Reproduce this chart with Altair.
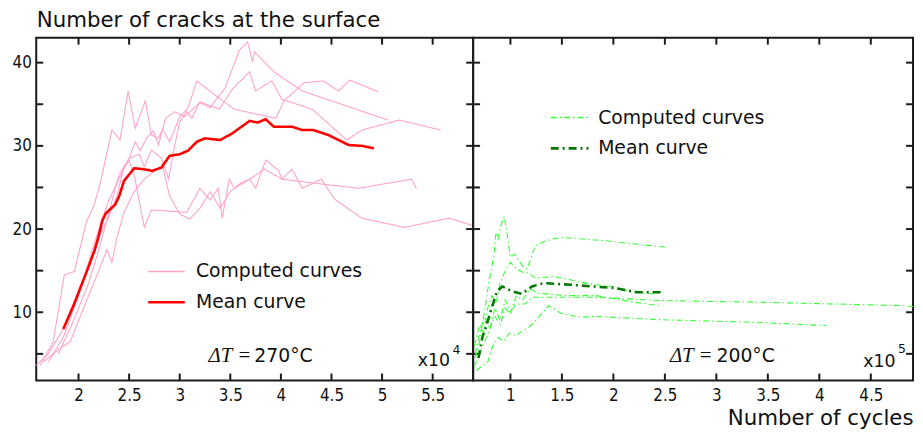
import altair as alt
import pandas as pd

# ---------------- data (x in units of 1e4 cycles for left, 1e5 for right) -------------
P1_x = [1.62, 1.75, 1.86, 1.96, 2.03, 2.08, 2.15, 2.22, 2.33, 2.41, 2.49, 2.56, 2.66, 2.72, 2.79,
        2.83, 2.90, 3.00, 3.08, 3.17, 3.36, 3.54, 3.95, 4.03, 4.23, 4.42, 4.57, 4.68, 4.96]
P1_y = [3.6, 6.5, 14.5, 14.9, 18.5, 21.0, 22.7, 25.8, 31.9, 30.7, 36.6, 32.1, 35.4, 31.3, 30.9,
        32.0, 30.5, 33.5, 34.5, 37.8, 36.0, 34.4, 33.3, 35.4, 37.6, 37.8, 36.6, 37.9, 36.5]
P2_x = [1.70, 1.85, 2.00, 2.10, 2.20, 2.30, 2.40, 2.50, 2.56, 2.61, 2.67, 2.74, 2.79, 2.86, 2.95,
        3.05, 3.20, 3.30, 3.45, 3.59, 3.67, 3.72, 3.74, 3.93, 4.21, 5.06]
P2_y = [4.0, 7.0, 12.0, 16.0, 20.0, 23.5, 26.0, 28.5, 30.5, 29.4, 30.9, 31.8, 30.1, 33.3, 34.1,
        33.5, 35.2, 34.6, 37.0, 41.5, 42.5, 40.1, 41.3, 38.9, 36.6, 33.1]
P3_x = [1.80, 1.95, 2.10, 2.20, 2.30, 2.40, 2.50, 2.60, 2.65, 2.72, 2.82, 2.89, 2.95, 3.00, 3.07,
        3.12, 3.20, 3.39, 3.52, 3.69, 3.75, 3.91, 4.01, 4.31, 4.65, 4.80, 5.17, 5.58]
P3_y = [5.0, 9.0, 13.5, 17.5, 22.0, 26.5, 28.5, 29.0, 27.5, 29.5, 28.5, 26.0, 30.0, 32.9, 34.1,
        33.3, 35.3, 34.4, 36.8, 38.9, 36.6, 37.8, 35.6, 34.4, 30.7, 31.9, 33.1, 31.9]
P4_x = [1.58, 1.70, 1.85, 1.95, 2.05, 2.15, 2.22, 2.30, 2.38, 2.45, 2.50, 2.55, 2.65, 2.72, 3.07,
        3.20, 3.30, 3.38, 3.42, 3.49, 3.54, 3.69, 3.75, 3.85, 3.98, 4.01, 4.11, 4.21, 4.40, 4.53,
        4.80, 5.22, 5.66, 5.90]
P4_y = [3.6, 5.0, 8.0, 11.0, 14.0, 17.0, 19.5, 21.5, 24.0, 27.5, 28.2, 26.5, 20.2, 22.3, 22.0,
        24.9, 23.5, 24.9, 21.3, 26.0, 24.9, 26.0, 24.9, 28.3, 27.0, 26.0, 27.2, 24.9, 26.0, 23.6,
        21.3, 20.2, 21.3, 20.4]
P5_x = [1.65, 1.80, 1.92, 2.00, 2.10, 2.20, 2.28, 2.33, 2.38, 2.45, 2.55, 2.65, 2.75, 2.83, 2.90,
        3.00, 3.10, 3.20, 3.30, 3.40, 3.50, 3.60, 3.69, 3.84, 4.01, 4.34, 4.77, 5.29, 5.34]
P5_y = [4.0, 5.5, 6.5, 9.0, 12.0, 15.0, 17.5, 16.0, 19.0, 22.0, 24.5, 26.0, 27.0, 27.5, 24.0,
        21.8, 21.2, 22.5, 24.5, 22.5, 24.5, 25.5, 26.0, 27.2, 26.0, 25.5, 24.9, 26.0, 24.9]
MEAN270_x = [1.85, 1.95, 2.03, 2.10, 2.16, 2.20, 2.235, 2.27, 2.36, 2.40, 2.45, 2.55, 2.64, 2.73,
             2.82, 2.90, 3.00, 3.08, 3.17, 3.25, 3.40, 3.52, 3.69, 3.77, 3.85, 3.93, 4.11, 4.21,
             4.32, 4.47, 4.57, 4.67, 4.80, 4.92]
MEAN270_y = [8.0, 10.8, 13.3, 15.5, 17.5, 19.2, 21.0, 21.9, 22.9, 23.9, 25.8, 27.3, 27.2, 27.0,
             27.4, 28.8, 29.0, 29.4, 30.5, 30.9, 30.7, 31.5, 33.0, 32.8, 33.2, 32.3, 32.3, 31.9,
             31.9, 31.3, 30.7, 30.1, 30.0, 29.7]

G1_x = [0.66, 0.70, 0.74, 0.76, 0.79, 0.82, 0.84, 0.86, 0.88, 0.91, 0.94, 0.97, 1.00, 1.04, 1.08,
        1.11, 1.16, 1.21, 1.24, 1.35, 1.48, 1.92, 2.21, 2.53]
G1_y = [4.5, 6.5, 9.5, 11.0, 13.5, 15.5, 16.8, 19.6, 18.8, 20.5, 21.5, 19.2, 16.6, 17.0, 16.2,
        15.7, 15.2, 16.8, 18.0, 18.6, 19.0, 18.6, 18.2, 17.8]
G3_x = [0.65, 0.70, 0.75, 0.80, 0.85, 0.90, 0.95, 1.00, 1.05, 1.14, 1.21, 1.47, 1.83, 2.47, 3.43,
        4.81, 4.91]
G3_y = [3.5, 5.0, 6.5, 8.0, 9.5, 8.5, 10.5, 9.8, 11.0, 11.0, 11.8, 11.8, 11.8, 11.4, 11.2,
        10.8, 10.7]
G4_x = [0.67, 0.72, 0.78, 0.83, 0.88, 0.93, 0.99, 1.05, 1.11, 1.18, 1.23, 1.28, 1.37, 1.50, 1.69,
        1.83, 2.47, 3.34, 4.07]
G4_y = [3.0, 3.5, 4.0, 6.0, 7.0, 6.5, 7.5, 7.2, 7.7, 8.2, 8.8, 9.5, 10.8, 9.8, 9.4,
        9.5, 9.1, 8.8, 8.4]
G5_x = [0.65, 0.70, 0.74, 0.78, 0.82, 0.86, 0.90, 0.95, 1.00, 1.06, 1.12, 1.18, 1.24, 1.43, 1.69,
        1.83, 1.99, 2.15, 2.40]
G5_y = [6.0, 8.5, 7.5, 10.5, 12.0, 11.0, 13.5, 15.0, 16.0, 15.2, 14.8, 14.7, 14.1, 14.3, 13.6,
        13.3, 13.1, 12.5, 12.2]
G6_x = [0.66, 0.70, 0.75, 0.80, 0.85, 0.90, 0.95, 1.00, 1.06, 1.12, 1.19, 1.26, 1.53, 1.83, 2.02,
        2.21, 2.44]
G6_y = [5.0, 7.5, 9.5, 8.0, 10.5, 9.0, 11.5, 10.0, 12.0, 11.5, 12.8, 12.3, 12.0, 12.0, 11.6,
        11.2, 10.8]
MEAN200_x = [0.69, 0.73, 0.77, 0.81, 0.87, 0.92, 1.02, 1.11, 1.21, 1.32, 1.59, 2.02, 2.23, 2.48]
MEAN200_y = [4.5, 7.1, 8.5, 10.2, 12.5, 13.1, 12.5, 12.2, 13.1, 13.5, 13.3, 12.9, 12.4, 12.4]

LEFT_XTICKS = [2, 2.5, 3, 3.5, 4, 4.5, 5, 5.5]
RIGHT_XTICKS = [1, 1.5, 2, 2.5, 3, 3.5, 4, 4.5]
Y_LABELS = [10, 20, 30, 40]
Y_TICKS = [5, 10, 15, 20, 25, 30, 35, 40]
LEFT_XDOMAIN = [1.582, 5.90]
RIGHT_XDOMAIN = [0.638, 4.91]
YDOMAIN = [1.8, 43.0]

LEGEND_LABELS = ["Computed curves", "Mean curve"]
# legend sample positions in data coordinates: [line start, line end, text start], [row1 y, row2 y]
LEFT_LEG_X = [2.689, 3.05, 3.16]
LEFT_LEG_Y = [14.9, 11.2]
RIGHT_LEG_X = [1.392, 1.758, 1.852]
RIGHT_LEG_Y = [33.4, 29.7]

DT_TEXTS = ["270°C", "200°C"]
LEFT_DT = [3.707, 3.737, 4.75]
RIGHT_DT = [2.963, 3.001, 4.75]
LEFT_EXP = [5.353, 3.6, 5.695, 5.0, "4"]
RIGHT_EXP = [4.427, 3.4, 4.765, 5.1, "5"]

PINK = "#ffa3cb"
RED = "#ff0000"
LGREEN = "#33ff33"
DGREEN = "#007800"
FRAME = "#1a1a1a"
W1, W2, H = 441, 444, 346
TICK = 7  # tick length in pixels, converted to data units below

SANS = "DejaVu Sans"
COND = "DejaVu Sans Condensed"
SERIF = "Liberation Serif, DejaVu Serif, serif"


def curves_df(curves):
    rows = []
    for cid, xs, ys in curves:
        for i, (x, y) in enumerate(zip(xs, ys)):
            rows.append({"curve": cid, "x": x, "y": y, "order": i})
    return pd.DataFrame(rows)


def panel(curves, mean_x, mean_y, xdomain, xticks, width, comp_color, mean_color,
          comp_dash, mean_dash, comp_w, mean_w, leg_x, leg_y, dt_pos, dt_text, exp_pos,
          left_axis, xtitle):
    xscale = alt.Scale(domain=xdomain, nice=False, zero=False)
    yscale = alt.Scale(domain=YDOMAIN, nice=False, zero=False)
    xaxis_kw = dict(values=xticks, format="~g", ticks=False, domain=False, grid=False,
                    labelPadding=7, labelFont=COND, labelFontSize=17, labelColor="#111",
                    labelFlush=False)
    if xtitle:
        xaxis_kw.update(title=xtitle, titleFont=SANS, titleFontSize=21.5, titleFontWeight="normal",
                        titleAlign="right", titleAnchor="end", titleX=width, titleY=44,
                        titleBaseline="alphabetic", titleColor="#111")
    else:
        xaxis_kw.update(title=None)
    xaxis = alt.Axis(**xaxis_kw)
    if left_axis:
        yaxis = alt.Axis(values=Y_LABELS, ticks=False, domain=False, grid=False,
                         labelPadding=5, labelFont=COND, labelFontSize=17, labelColor="#111",
                         title="Number of cracks at the surface", titleAngle=0, titleAlign="left",
                         titleBaseline="alphabetic", titleX=0, titleY=-11, titleFont=SANS,
                         titleFontSize=21.5, titleFontWeight="normal", titleColor="#111")
    else:
        yaxis = None

    def X(f):
        return alt.X(f, scale=xscale, axis=xaxis)

    def Y(f):
        return alt.Y(f, scale=yscale, axis=yaxis)

    # inward frame ticks drawn as short rules through the scales (length converted to data units)
    dx = TICK * (xdomain[1] - xdomain[0]) / width
    dy = TICK * (YDOMAIN[1] - YDOMAIN[0]) / H
    rows = []
    for v in xticks:
        rows.append({"xa": v, "xb": v, "ya": YDOMAIN[0], "yb": YDOMAIN[0] + dy})
        rows.append({"xa": v, "xb": v, "ya": YDOMAIN[1] - dy, "yb": YDOMAIN[1]})
    for v in Y_TICKS:
        rows.append({"xa": xdomain[0], "xb": xdomain[0] + dx, "ya": v, "yb": v})
        rows.append({"xa": xdomain[1] - dx, "xb": xdomain[1], "ya": v, "yb": v})
    ticks = alt.Chart(pd.DataFrame(rows)).mark_rule(color=FRAME, strokeWidth=2).encode(
        x=X("xa:Q"), x2="xb:Q", y=Y("ya:Q"), y2="yb:Q"
    )

    comp = alt.Chart(curves_df(curves)).mark_line(
        color=comp_color, strokeWidth=comp_w, clip=True, strokeDash=comp_dash
    ).encode(x=X("x:Q"), y=Y("y:Q"), detail="curve:N", order="order:Q")
    mean = alt.Chart(pd.DataFrame({"x": mean_x, "y": mean_y, "order": range(len(mean_x))})).mark_line(
        color=mean_color, strokeWidth=mean_w, clip=True, strokeDash=mean_dash
    ).encode(x=X("x:Q"), y=Y("y:Q"), order="order:Q")

    leg1 = alt.Chart(pd.DataFrame({"x": [leg_x[0]], "x2": [leg_x[1]], "y": [leg_y[0]]})).mark_rule(
        color=comp_color, strokeWidth=comp_w + 0.4, strokeDash=comp_dash
    ).encode(x=X("x:Q"), x2="x2", y=Y("y:Q"))
    leg2 = alt.Chart(pd.DataFrame({"x": [leg_x[0]], "x2": [leg_x[1]], "y": [leg_y[1]]})).mark_rule(
        color=mean_color, strokeWidth=mean_w, strokeDash=mean_dash
    ).encode(x=X("x:Q"), x2="x2", y=Y("y:Q"))
    legt = alt.Chart(pd.DataFrame({"x": [leg_x[2]] * 2, "y": leg_y, "t": LEGEND_LABELS})).mark_text(
        align="left", baseline="middle", font=SANS, fontSize=19, color="#111"
    ).encode(x=X("x:Q"), y=Y("y:Q"), text="t:N")

    dt1 = alt.Chart(pd.DataFrame({"x": [dt_pos[0]], "y": [dt_pos[2]], "t": ["ΔT ="]})).mark_text(
        align="right", baseline="middle", font=SERIF, fontStyle="italic", fontSize=21, color="#111"
    ).encode(x=X("x:Q"), y=Y("y:Q"), text="t:N")
    dt2 = alt.Chart(pd.DataFrame({"x": [dt_pos[1]], "y": [dt_pos[2]], "t": [dt_text]})).mark_text(
        align="left", baseline="middle", font=SANS, fontSize=19, color="#111"
    ).encode(x=X("x:Q"), y=Y("y:Q"), text="t:N")
    ex1 = alt.Chart(pd.DataFrame({"x": [exp_pos[0]], "y": [exp_pos[1]], "t": ["x10"]})).mark_text(
        align="left", baseline="alphabetic", font=SANS, fontSize=17.5, color="#111"
    ).encode(x=X("x:Q"), y=Y("y:Q"), text="t:N")
    ex2 = alt.Chart(pd.DataFrame({"x": [exp_pos[2]], "y": [exp_pos[3]], "t": [exp_pos[4]]})).mark_text(
        align="left", baseline="alphabetic", font=SANS, fontSize=12.5, color="#111"
    ).encode(x=X("x:Q"), y=Y("y:Q"), text="t:N")

    return alt.layer(ticks, comp, mean, leg1, leg2, legt, dt1, dt2, ex1, ex2).properties(
        width=width, height=H
    )


left = panel([("a", P1_x, P1_y), ("b", P2_x, P2_y), ("c", P3_x, P3_y), ("d", P4_x, P4_y), ("e", P5_x, P5_y)],
             MEAN270_x, MEAN270_y, LEFT_XDOMAIN, LEFT_XTICKS, W1, PINK, RED, [1, 0], [1, 0], 1.1, 2.6,
             LEFT_LEG_X, LEFT_LEG_Y, LEFT_DT, DT_TEXTS[0], LEFT_EXP, True, None)
right = panel([("a", G1_x, G1_y), ("b", G3_x, G3_y), ("c", G4_x, G4_y), ("d", G5_x, G5_y), ("e", G6_x, G6_y)],
              MEAN200_x, MEAN200_y, RIGHT_XDOMAIN, RIGHT_XTICKS, W2, LGREEN, DGREEN, [6, 3, 1.5, 3],
              [8, 4, 2, 4], 1.1, 2.6, RIGHT_LEG_X, RIGHT_LEG_Y, RIGHT_DT, DT_TEXTS[1], RIGHT_EXP, False,
              "Number of cycles")

chart = alt.hconcat(left, right, spacing=0, bounds="flush").properties(
    padding={"left": 2.5, "top": -1, "right": 0, "bottom": -3.5},
    background="white",
).configure_view(stroke=FRAME, strokeWidth=2)

chart.save("out.html", embed_options={"renderer": "svg", "actions": False})
